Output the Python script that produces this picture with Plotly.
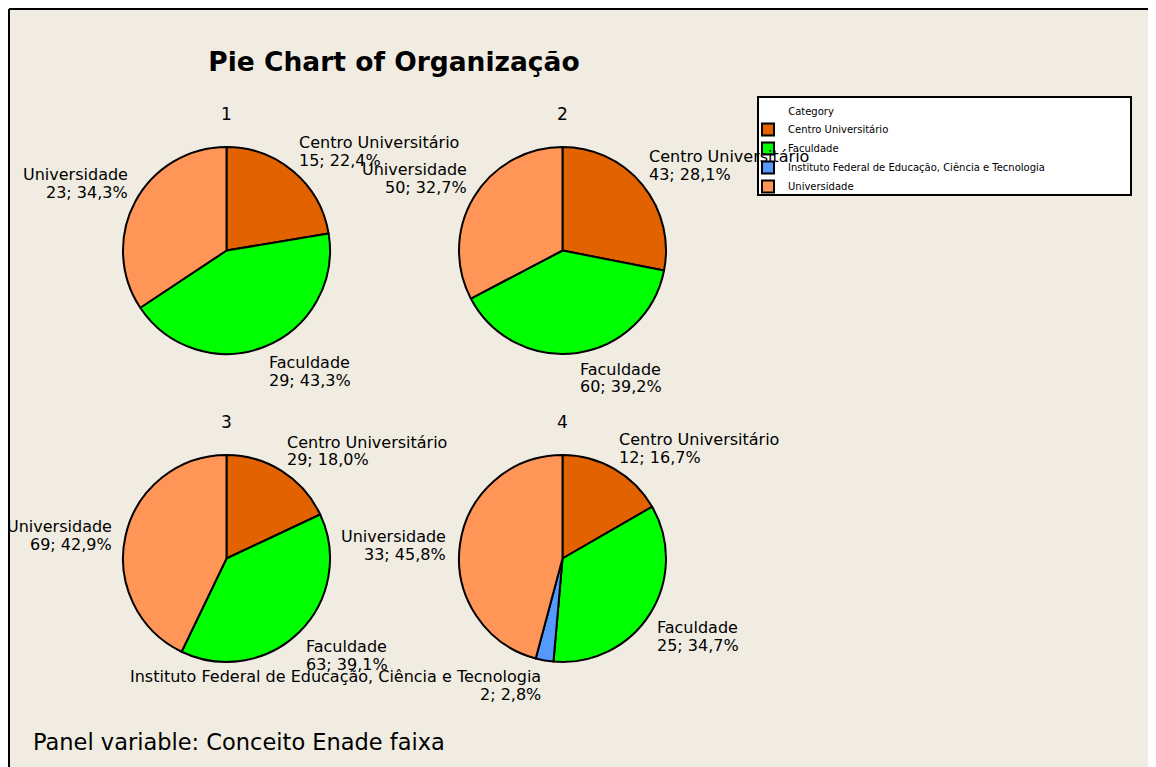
import math
import plotly.graph_objects as go

# ---------------- data ----------------
categories = ["Centro Universitário", "Faculdade",
              "Instituto Federal de Educação, Ciência e Tecnologia", "Universidade"]
panel_names = ["1", "2", "3", "4"]
counts_1 = [15, 29, 0, 23]
counts_2 = [43, 60, 0, 50]
counts_3 = [29, 63, 0, 69]
counts_4 = [12, 25, 2, 33]
colors = ["#E36200", "#00FF00", "#5599FF", "#FF9658"]

title_text = "Pie Chart of Organização"
legend_title = "Category"
footer_text = "Panel variable: Conceito Enade faixa"

panel_counts = [counts_1, counts_2, counts_3, counts_4]

# ---------------- geometry (screen pixels; page has an 8px body margin) ----------------
OFF = 8
W, H = 1156 - OFF, 767 - OFF
BG = "#F0ECE2"
centers = [(226.5, 250.5), (562.5, 250.5), (226.5, 558.5), (562.5, 558.5)]
R = 103.5
GAP = 6
PITCH = 17.5
LABEL_FONT = dict(family="DejaVu Sans", size=16, color="black")


def X(px):
    return (px - OFF) / W


def Y(py):
    return 1 - (py - OFF) / H


fig = go.Figure()

# pie 4 first so the legend lists all four categories in order
for idx in [3, 0, 1, 2]:
    vals = panel_counts[idx]
    cx, cy = centers[idx]
    labs = [c for c, v in zip(categories, vals) if v > 0]
    vs = [v for v in vals if v > 0]
    cols = [col for col, v in zip(colors, vals) if v > 0]
    fig.add_trace(go.Pie(
        labels=labs, values=vs, name=panel_names[idx],
        marker=dict(colors=cols, line=dict(color="black", width=2)),
        sort=False, direction="clockwise", rotation=0,
        textinfo="none", textposition="none",
        domain=dict(x=[X(cx - R), X(cx + R)], y=[Y(cy + R), Y(cy - R)]),
        showlegend=True,
        hovertemplate="%{label}<br>%{value}; %{percent}<extra>" + panel_names[idx] + "</extra>",
    ))

annotations = []


def ann(text, px, py, xanchor, yanchor, font, align="left"):
    annotations.append(dict(text=text, x=X(px), y=Y(py), xref="paper", yref="paper",
                            xanchor=xanchor, yanchor=yanchor, showarrow=False,
                            font=font, align=align))


for idx, vals in enumerate(panel_counts):
    cx, cy = centers[idx]
    ann(panel_names[idx], cx, cy - 137, "center", "middle",
        dict(family="DejaVu Sans", size=17, color="black"))
    tot = sum(vals)
    cum = 0
    for cat, v in zip(categories, vals):
        if v == 0:
            continue
        mid = (cum + v / 2) / tot * 2 * math.pi
        cum += v
        s, c = math.sin(mid), math.cos(mid)
        ax = cx + (R + GAP) * s
        ay = cy - (R + GAP) * c
        xa = "left" if s >= 0 else "right"
        pct = f"{v / tot * 100:.1f}".replace(".", ",")
        line1, line2 = cat, f"{v}; {pct}%"
        if c > 0.3:
            ann(line1, ax, ay + 5 - PITCH, xa, "bottom", LABEL_FONT)
            ann(line2, ax, ay + 5, xa, "bottom", LABEL_FONT)
        elif c < -0.3:
            ann(line1, ax, ay - 1, xa, "top", LABEL_FONT)
            ann(line2, ax, ay - 1 + PITCH, xa, "top", LABEL_FONT)
        else:
            ax2 = ax + (6 if s >= 0 else -6)
            ann(line1, ax2, ay - PITCH / 2 + 1.5, xa, "middle", LABEL_FONT)
            ann(line2, ax2, ay + PITCH / 2 + 1.5, xa, "middle", LABEL_FONT)

ann(footer_text, 31, 757, "left", "bottom",
    dict(family="DejaVu Sans", size=22.5, color="black"))

shapes = [
    dict(type="rect", xref="paper", yref="paper", x0=X(9), x1=X(1155), y0=-0.1, y1=Y(9),
         fillcolor=BG, line=dict(width=0), layer="below"),
    dict(type="line", xref="paper", yref="paper", x0=X(9), x1=X(1155), y0=Y(9), y1=Y(9),
         line=dict(color="black", width=2), layer="below"),
    dict(type="line", xref="paper", yref="paper", x0=X(9), x1=X(9), y0=Y(9), y1=-0.1,
         line=dict(color="black", width=2), layer="below"),
    dict(type="line", xref="paper", yref="paper", x0=X(1155), x1=X(1155), y0=Y(9), y1=-0.1,
         line=dict(color="#555555", width=1.5), layer="below"),
    dict(type="rect", xref="paper", yref="paper", x0=X(758), x1=X(1131), y0=Y(195), y1=Y(97),
         fillcolor="white", line=dict(color="black", width=2), layer="below"),
]

fig.update_layout(
    width=W, height=H, autosize=False,
    margin=dict(l=0, r=0, t=0, b=0),
    paper_bgcolor="white",
    title=dict(text=title_text, x=X(394), y=Y(62), xref="paper", yref="container",
               xanchor="center", yanchor="middle",
               font=dict(family="DejaVu Sans", size=26.5, color="black", weight="bold")),
    legend=dict(x=X(748), y=Y(102), xanchor="left", yanchor="top",
                bgcolor="rgba(0,0,0,0)", borderwidth=0,
                font=dict(family="DejaVu Sans", size=10, color="black"),
                title=dict(text="&nbsp;" * 12 + legend_title,
                           font=dict(family="DejaVu Sans", size=10, color="black"))),
    annotations=annotations,
    shapes=shapes,
)

fig.write_html("out.html")
